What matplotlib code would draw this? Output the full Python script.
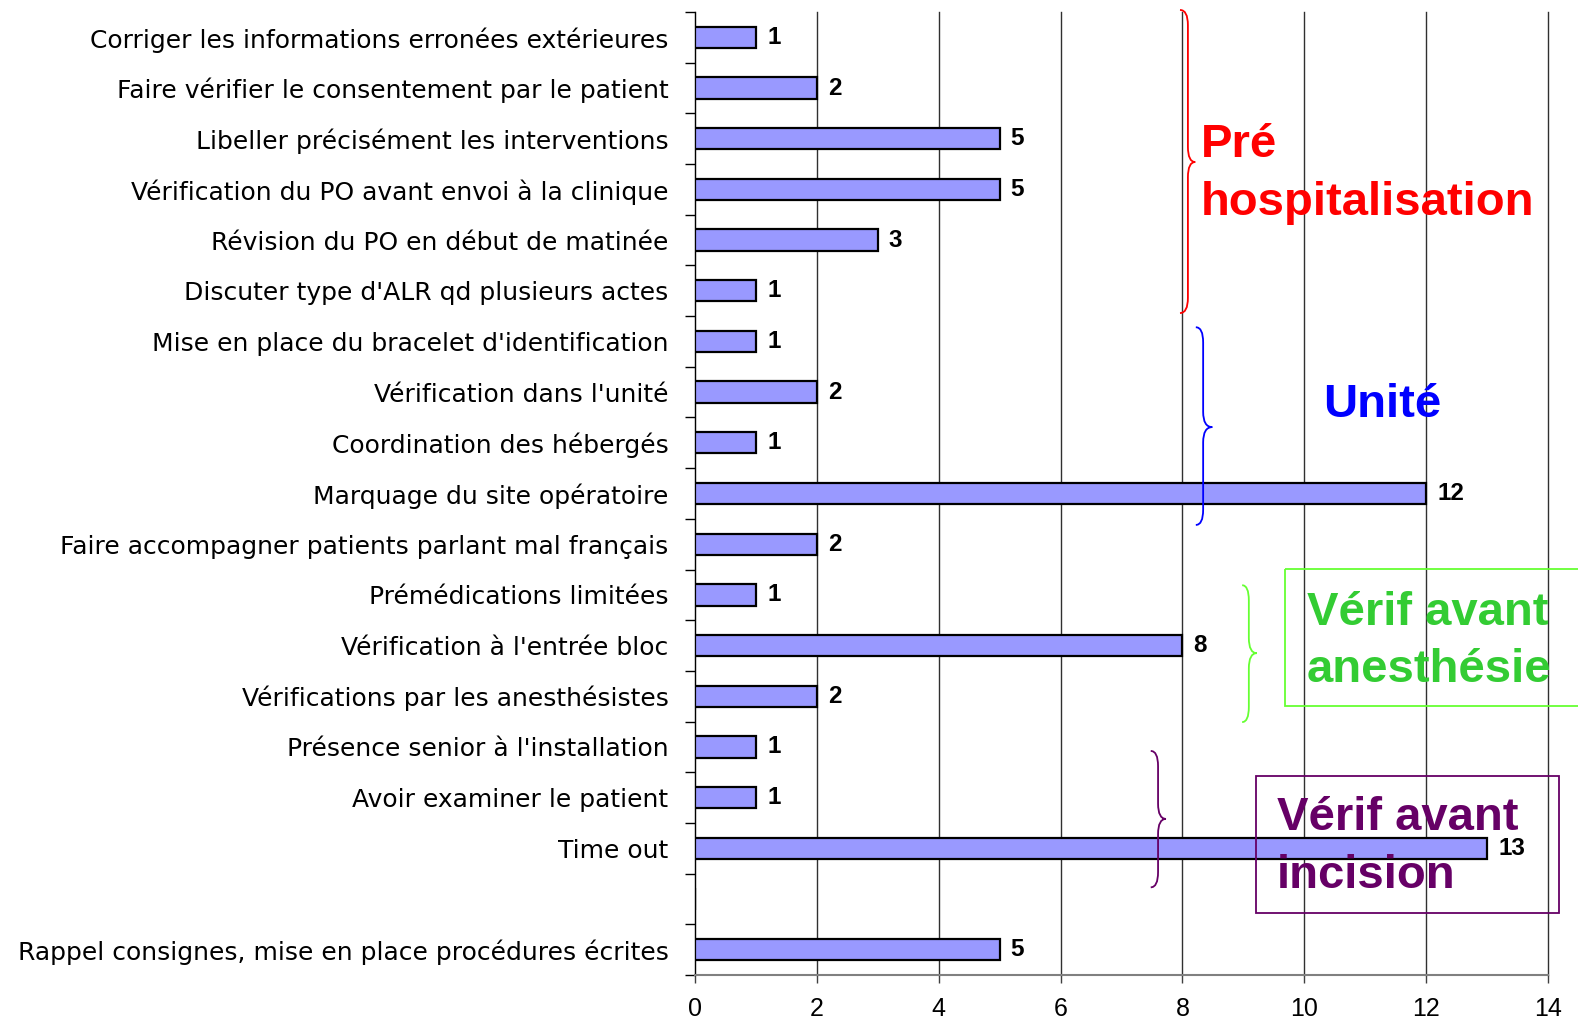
import matplotlib
matplotlib.use("Agg")
import matplotlib.pyplot as plt
import numpy as np
from matplotlib.path import Path
from matplotlib.patches import PathPatch, Rectangle

plt.rcParams['font.family'] = ['Liberation Sans', 'DejaVu Sans']

# categories from top to bottom ("" = empty slot)
categories = [
    "Corriger les informations erronées extérieures",
    "Faire vérifier le consentement par le patient",
    "Libeller précisément les interventions",
    "Vérification du PO avant envoi à la clinique",
    "Révision du PO en début de matinée",
    "Discuter type d'ALR qd plusieurs actes",
    "Mise en place du bracelet d'identification",
    "Vérification dans l'unité",
    "Coordination des hébergés",
    "Marquage du site opératoire",
    "Faire accompagner patients parlant mal français",
    "Prémédications limitées",
    "Vérification à l'entrée bloc",
    "Vérifications par les anesthésistes",
    "Présence senior à l'installation",
    "Avoir examiner le patient",
    "Time out",
    "",
    "Rappel consignes, mise en place procédures écrites",
]
values = [1, 2, 5, 5, 3, 1, 1, 2, 1, 12, 2, 1, 8, 2, 1, 1, 13, None, 5]
xticks = [0, 2, 4, 6, 8, 10, 12, 14]

fig = plt.figure(figsize=(15.78, 10.25), dpi=100)
ax = fig.add_axes([695/1578, 1 - 975/1025, (1548 - 695)/1578, (975 - 12)/1025])

rows = np.arange(len(categories))
vals = np.array([np.nan if v is None else v for v in values], dtype=float)
ax.barh(rows, np.nan_to_num(vals), height=0.42, color='#9999FF',
        edgecolor='black', linewidth=1.6, zorder=3)

for r, v in zip(rows, values):
    if v is None:
        continue
    ax.annotate(str(v), (v, r), xytext=(8, 0), textcoords='offset points',
                va='center', ha='left', fontsize=17.5, fontweight='bold', zorder=4)

ax.set_xlim(0, 14)
ax.set_ylim(len(categories) - 0.5, -0.5)
ax.set_xticks(xticks)
ax.set_xticklabels([str(t) for t in xticks], fontsize=18)
ax.tick_params(axis='x', length=6, width=1, color='#404040', pad=10)

ax.set_yticks(np.arange(len(categories) + 1) - 0.5)
ax.set_yticklabels([])
ax.set_yticks(rows, minor=True)
ax.set_yticklabels(categories, minor=True, fontsize=18, family='DejaVu Sans')
ax.tick_params(axis='y', which='major', length=7, width=1, color='black')
ax.tick_params(axis='y', which='minor', length=0, pad=19)

ax.grid(axis='x', color='#303030', linewidth=1, zorder=0)
for gl in ax.get_xgridlines():
    gl.set_clip_on(False)
ax.set_axisbelow(True)
for s in ['top', 'right']:
    ax.spines[s].set_visible(False)
ax.spines['left'].set_color('black')
ax.spines['bottom'].set_color('#808080')
ax.spines['bottom'].set_linewidth(1.5)


def brace(x0, xm, xt, y0, ym, y1, color, r=0.3):
    verts = [(x0, y0), (xm, y0), (xm, y0 + r),
             (xm, ym - r), (xm, ym), (xt, ym),
             (xm, ym), (xm, ym + r),
             (xm, y1 - r), (xm, y1), (x0, y1)]
    codes = [Path.MOVETO, Path.CURVE3, Path.CURVE3,
             Path.LINETO, Path.CURVE3, Path.CURVE3,
             Path.CURVE3, Path.CURVE3,
             Path.LINETO, Path.CURVE3, Path.CURVE3]
    ax.add_patch(PathPatch(Path(verts, codes), fill=False, edgecolor=color,
                           linewidth=1.3, clip_on=False, zorder=5))


brace(7.96, 8.09, 8.21, -0.54, 2.46, 5.44, '#FF0000')
brace(8.22, 8.34, 8.49, 5.72, 7.69, 9.62, '#0000FF')
brace(8.98, 9.09, 9.22, 10.81, 12.15, 13.51, '#66FF33')
brace(7.48, 7.60, 7.73, 14.08, 15.42, 16.77, '#660066')

ax.add_patch(Rectangle((9.68, 10.49), 5.0, 2.70, fill=False, edgecolor='#66FF33',
                       linewidth=1.3, clip_on=False, zorder=5))
ax.add_patch(Rectangle((9.21, 14.58), 4.97, 2.70, fill=False, edgecolor='#660066',
                       linewidth=1.3, clip_on=False, zorder=5))

big = dict(fontsize=34, fontweight='bold', va='baseline', ha='left', zorder=6,
           clip_on=False)
ax.text(8.30, 2.36, "Pré", color='#FF0000', **big)
ax.text(8.30, 3.51, "hospitalisation", color='#FF0000', **big)
ax.text(10.31, 7.49, "Unité", color='#0000FF', **big)
ax.text(10.04, 11.60, "Vérif avant", color='#33CC33', **big)
ax.text(10.04, 12.72, "anesthésie", color='#33CC33', **big)
ax.text(9.55, 15.64, "Vérif avant", color='#660066', **big)
ax.text(9.55, 16.79, "incision", color='#660066', **big)

fig.savefig("out.png", dpi=100)
